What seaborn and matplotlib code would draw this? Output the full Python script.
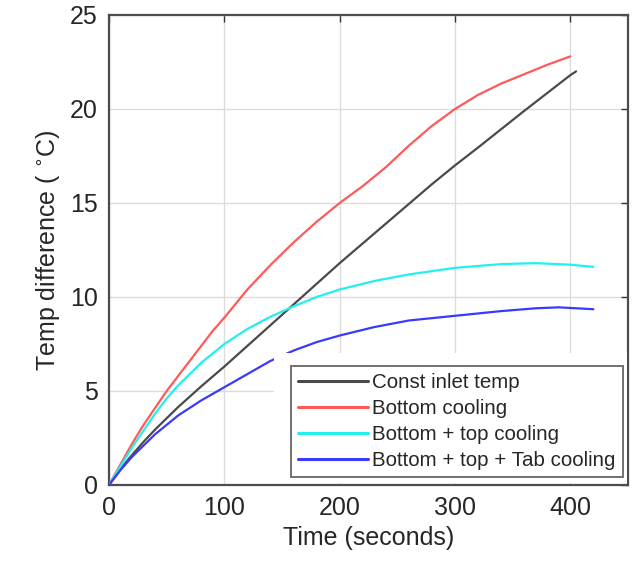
import matplotlib
matplotlib.use("Agg")
import matplotlib.pyplot as plt
from matplotlib.patches import Rectangle
import seaborn as sns
import pandas as pd

# Temperature difference over time for each cooling strategy
t_const = [0, 10, 20, 30, 40, 50, 60, 80, 100, 120, 140, 160, 180, 200, 240, 280, 300, 320, 360, 400, 405]
dT_const = [0, 0.85, 1.6, 2.3, 2.95, 3.55, 4.15, 5.25, 6.3, 7.4, 8.5, 9.6, 10.7, 11.8, 13.9, 16.0, 17.0, 17.95, 19.9, 21.8, 22.0]

t_bottom = [0, 10, 20, 30, 40, 50, 60, 70, 80, 90, 100, 120, 140, 160, 180, 200, 220, 240, 260, 280, 300, 320, 340, 360, 380, 400]
dT_bottom = [0, 1.1, 2.2, 3.2, 4.1, 5.0, 5.8, 6.6, 7.4, 8.2, 8.9, 10.4, 11.7, 12.9, 14.0, 15.0, 15.9, 16.9, 18.05, 19.1, 20.0, 20.75, 21.35, 21.85, 22.35, 22.8]

t_bt = [0, 10, 20, 30, 40, 50, 60, 80, 100, 120, 140, 160, 180, 200, 230, 260, 300, 340, 370, 400, 420]
dT_bt = [0, 1.0, 2.0, 2.9, 3.8, 4.6, 5.3, 6.5, 7.5, 8.3, 8.95, 9.5, 10.0, 10.4, 10.85, 11.2, 11.55, 11.75, 11.8, 11.72, 11.6]

t_btt = [0, 10, 20, 30, 40, 50, 60, 80, 100, 120, 140, 160, 180, 200, 230, 260, 300, 340, 370, 390, 420]
dT_btt = [0, 0.8, 1.5, 2.1, 2.7, 3.2, 3.7, 4.5, 5.2, 5.9, 6.6, 7.15, 7.6, 7.95, 8.4, 8.75, 9.0, 9.25, 9.4, 9.45, 9.35]

labels = ["Const inlet temp", "Bottom cooling", "Bottom + top cooling", "Bottom + top + Tab cooling"]
colors = ["#4a4a4a", "#ff5a5a", "#22f0f0", "#3a3aff"]

frames = []
for lab, tt, yy in zip(labels, [t_const, t_bottom, t_bt, t_btt], [dT_const, dT_bottom, dT_bt, dT_btt]):
    frames.append(pd.DataFrame({"time": tt, "dT": yy, "case": lab}))
df = pd.concat(frames, ignore_index=True)

sns.set_style("white")
plt.rcParams["font.family"] = ["Liberation Sans", "DejaVu Sans"]

fig = plt.figure(figsize=(6.33, 5.69), dpi=100)
ax = fig.add_axes([109 / 633, 1 - 485 / 569, 519 / 633, 470 / 569])

sns.lineplot(data=df, x="time", y="dT", hue="case", hue_order=labels,
             palette=colors, linewidth=1.6, ax=ax, legend=True, sort=False, zorder=3)

ax.set_xlim(0, 450)
ax.set_ylim(0, 25)
ax.set_xticks([0, 100, 200, 300, 400])
ax.set_yticks([0, 5, 10, 15, 20, 25])
ax.grid(True, color="#dcdcdc", linewidth=1.0, zorder=0)
ax.set_axisbelow(True)

ax.tick_params(axis="both", direction="in", length=5, width=1, colors="#333333",
               labelsize=18, labelcolor="#262626", top=True, right=True, pad=8)
for sp in ax.spines.values():
    sp.set_color("#4d4d4d")
    sp.set_linewidth(1.6)

ax.set_xlabel("Time (seconds)", fontsize=18, color="#262626", labelpad=4)
ax.set_ylabel(r"Temp difference ( $^{\circ}$C)", fontsize=18, color="#262626", labelpad=6)

# white backdrop behind the legend
ax.add_patch(Rectangle((0.318, 0.004), 0.68, 0.277, transform=ax.transAxes,
                       facecolor="white", edgecolor="none", zorder=4))

leg = ax.legend(loc="lower right", bbox_to_anchor=(0.99, 0.017), fontsize=14.8,
                frameon=True, fancybox=False, handlelength=3.4, handletextpad=0.2,
                labelspacing=0.33, borderpad=0.35, borderaxespad=0)
leg.set_zorder(5)
leg.get_frame().set_edgecolor("#4d4d4d")
leg.get_frame().set_linewidth(1.4)
for txt in leg.get_texts():
    txt.set_color("#262626")
for line in leg.get_lines():
    line.set_linewidth(2.2)

fig.savefig("out.png", dpi=100)
